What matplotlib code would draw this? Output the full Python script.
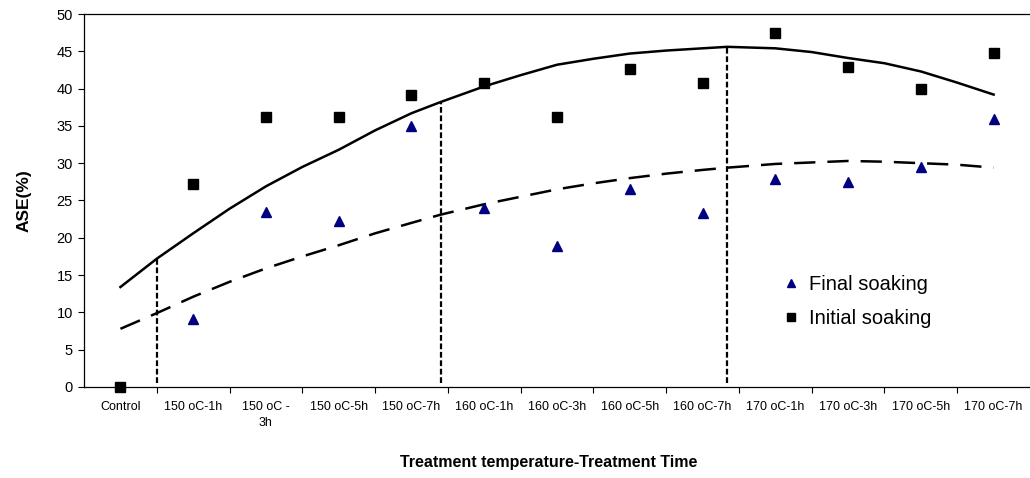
import numpy as np
import matplotlib
matplotlib.use("Agg")
import matplotlib.pyplot as plt

plt.rcParams['font.family'] = ['Liberation Sans', 'DejaVu Sans']

# Categories (treatment temperature - treatment time)
categories = ['Control', '150 oC-1h', '150 oC -\n3h', '150 oC-5h', '150 oC-7h',
              '160 oC-1h', '160 oC-3h', '160 oC-5h', '160 oC-7h',
              '170 oC-1h', '170 oC-3h', '170 oC-5h', '170 oC-7h']

# ASE (%) values
initial_soaking = [0, 27.2, 36.2, 36.2, 39.1, 40.8, 36.2, 42.6, 40.8, 47.4, 42.9, 39.9, 44.8]
final_soaking = [np.nan, 9.1, 23.4, 22.2, 35.0, 24.0, 18.9, 26.6, 23.3, 27.9, 27.5, 29.5, 35.9]

# Trend lines as drawn in the chart (category position, value)
trend_pos = [0, 0.5, 1, 1.5, 2, 2.5, 3, 3.5, 4, 4.4, 5, 5.5, 6, 6.5, 7, 7.5, 8, 8.34,
             9, 9.5, 10, 10.5, 11, 11.5, 12]
trend_initial = [13.4, 17.2, 20.6, 23.9, 26.9, 29.5, 31.8, 34.4, 36.7, 38.2, 40.3, 41.8,
                 43.2, 44.0, 44.7, 45.1, 45.4, 45.6, 45.4, 44.9, 44.1, 43.4, 42.3, 40.8, 39.2]
trend_final = [7.8, 9.9, 12.1, 14.1, 15.9, 17.5, 19.0, 20.6, 22.0, 23.1, 24.5, 25.5,
               26.5, 27.3, 28.0, 28.6, 29.1, 29.4, 29.9, 30.1, 30.3, 30.2, 30.0, 29.8, 29.4]

# Dotted vertical markers (position, top value)
vline_pos = [0.5, 4.4, 8.34]
vline_top = [17.2, 38.2, 45.6]

fig = plt.figure(figsize=(10.30, 4.78), dpi=100)
ax = fig.add_axes([0.0816, 0.1904, 0.9184, 0.7803])

x = np.arange(len(categories))

ax.plot(trend_pos, trend_initial, color='black', lw=1.8, zorder=2)
ax.plot(trend_pos, trend_final, color='black', lw=1.8, dashes=(8.5, 4.8), zorder=2)

for px, top in zip(vline_pos, vline_top):
    ax.plot([px, px], [0.5, top], color='black', lw=1.6, dashes=(2.6, 1.2), zorder=2)

ax.plot(x, final_soaking, linestyle='none', marker='^', color='#000080',
        markersize=7.5, label='Final soaking', zorder=3, clip_on=False)
ax.plot(x, initial_soaking, linestyle='none', marker='s', color='black',
        markersize=7, label='Initial soaking', zorder=4, clip_on=False)

ax.set_xlim(-0.5, 12.5)
ax.set_ylim(0, 50)
ax.set_yticks(np.arange(0, 51, 5))
ax.tick_params(axis='y', direction='out', length=4, width=0.8, labelsize=10.5, pad=4)

ax.set_xticks(x)
ax.set_xticklabels(categories, fontsize=9, linespacing=1.5)
ax.tick_params(axis='x', which='major', length=0, pad=10)
ax.set_xticks(np.arange(0.5, 12.5, 1), minor=True)
ax.tick_params(axis='x', which='minor', direction='out', length=4, width=0.8)

ax.spines['right'].set_visible(False)
for s in ['left', 'bottom', 'top']:
    ax.spines[s].set_linewidth(0.9)

ax.set_ylabel('ASE(%)', fontsize=12.5, fontweight='bold', labelpad=18)
fig.text(549 / 1030, 1 - 462 / 478, 'Treatment temperature-Treatment Time',
         ha='center', va='center', fontsize=11.5, fontweight='bold')

ax.legend(loc='upper left', bbox_to_anchor=(0.72, 0.35), frameon=False,
          fontsize=14.5, handlelength=0.8, handletextpad=0.5, labelspacing=0.75,
          markerscale=0.8)

fig.savefig('out.png', dpi=100)
